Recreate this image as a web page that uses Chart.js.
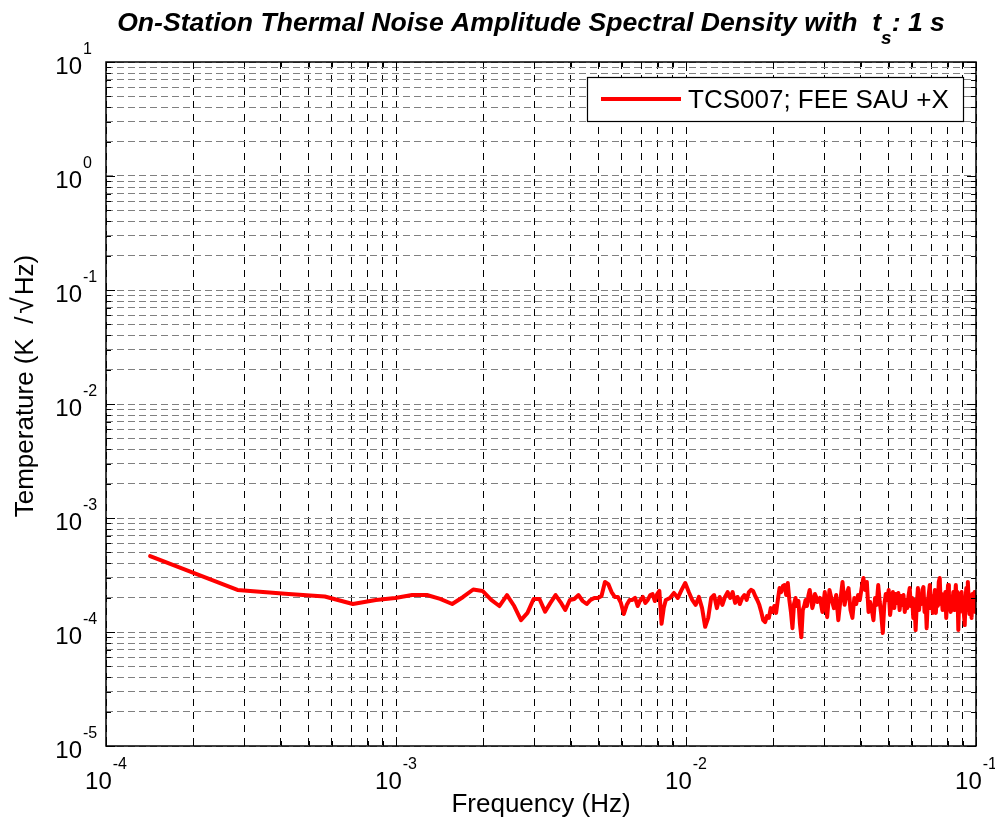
<!DOCTYPE html>
<html>
<head>
<meta charset="utf-8">
<title>On-Station Thermal Noise ASD</title>
<script src="https://cdn.jsdelivr.net/npm/chart.js@4.4.1/dist/chart.umd.min.js"></script>
<style>
    html, body { margin: 0; padding: 0; background: #fff; }
    #wrap { width: 995px; height: 825px; }
</style>
</head>
<body>
<div id="wrap"><canvas id="psdChart" width="995" height="825"></canvas></div>
<script>
// FFT bin width of the spectrum (Hz)
const BIN_HZ = 1.42e-4;

// Amplitude spectral density, in units of 1e-4 K/sqrt(Hz)
// bins 1..60, every bin
const asdLow = [
    4.64, 2.34, 2.15, 2.05, 1.76, 1.91, 1.99, 2.11, 2.11, 1.95,
    1.76, 2.03, 2.36, 2.29, 1.91, 1.69, 2.11, 1.69, 1.27, 1.47,
    1.95, 1.95, 1.51, 1.80, 2.11, 1.83, 1.56, 1.91, 1.95, 2.11,
    1.87, 1.76, 1.91, 1.99, 1.99, 2.07, 2.75, 2.63, 2.24, 2.03,
    2.03, 1.80, 1.44, 1.73, 1.91, 1.91, 1.99, 1.69, 1.91, 2.03,
    1.80, 1.91, 2.11, 2.15, 1.87, 2.15, 2.29, 1.18, 1.62, 1.91
];
// bins 62..200, every 2nd bin
const asdMid = [
    1.99, 2.20, 1.99, 2.34, 2.69, 2.24, 1.91, 1.73, 2.03, 1.62,
    1.11, 1.33, 1.99, 2.11, 1.62, 2.03, 1.73, 2.03, 2.24, 1.99,
    2.24, 1.80, 2.03, 1.76, 1.99, 2.11, 1.91, 2.24, 2.34, 2.29,
    2.07, 1.91, 1.73, 1.50, 1.27, 1.22, 1.38, 1.33, 1.62, 1.50,
    1.69, 1.47, 1.91, 2.43, 2.24, 2.53, 2.58, 2.11, 2.69, 1.91,
    1.50, 1.08, 1.76, 1.99, 1.69, 1.87, 1.18, 0.90, 1.56, 1.69,
    1.91, 1.69, 2.07, 2.34, 1.99, 1.62, 1.80, 2.15, 2.03, 1.83
];
// bins 204..704, every 4th bin
const asdHigh = [
    1.99, 1.50, 2.24, 1.35, 2.34, 1.91, 1.62, 2.11, 1.27, 1.91,
    2.75, 1.73, 2.15, 2.43, 1.56, 1.33, 1.99, 1.76, 2.11, 1.91,
    2.43, 2.98, 2.34, 2.75, 1.50, 1.83, 1.56, 1.27, 1.99, 1.73,
    2.58, 1.83, 1.41, 0.98, 1.73, 2.15, 1.91, 2.34, 1.41, 1.80,
    2.24, 1.62, 2.15, 1.80, 2.20, 1.56, 2.07, 1.73, 2.11, 1.50,
    1.91, 1.62, 2.07, 2.43, 1.69, 1.99, 1.33, 1.91, 1.04, 1.73,
    2.43, 1.56, 2.07, 1.76, 2.34, 2.48, 1.50, 1.91, 1.08, 1.80,
    2.15, 2.58, 1.62, 2.07, 1.47, 1.91, 2.34, 1.47, 2.07, 1.69,
    2.75, 2.98, 1.76, 2.15, 1.56, 1.99, 1.69, 2.24, 1.33, 1.91,
    2.58, 1.62, 2.07, 1.50, 1.91, 1.73, 2.24, 1.56, 1.99, 2.58,
    1.69, 2.24, 1.04, 1.91, 1.50, 2.07, 2.24, 1.62, 1.99, 1.41,
    1.15, 1.91, 2.43, 1.56, 2.75, 1.99, 1.44, 2.07, 1.73, 1.33,
    2.15, 1.56, 1.91, 2.24, 1.50, 1.99
];

// decade exponents used for tick labels
const xDecades = [-4, -3, -2, -1];
const yDecades = [-5, -4, -3, -2, -1, 0, 1];

const seriesLabel = 'TCS007; FEE SAU +X';

// build the points from the bin segments
function segment(values, firstBin, step) {
    return values.map((v, i) => ({ x: (firstBin + i * step) * BIN_HZ, y: v * 1e-4 }));
}
const points = [].concat(segment(asdLow, 1, 1), segment(asdMid, 62, 2), segment(asdHigh, 204, 4));

// every 1..9 x 10^e tick between the first and last decade
function logTicks(decades) {
    const out = [];
    for (let i = 0; i < decades.length - 1; i++) {
        for (let m = 1; m < 10; m++) out.push({ value: m * Math.pow(10, decades[i]), major: m === 1 });
    }
    out.push({ value: Math.pow(10, decades[decades.length - 1]), major: true });
    return out;
}

const FONT = '"Liberation Sans", Arial, Helvetica, sans-serif';

function drawPow(ctx, exp, x, y, mode) {
    // mode 'center' : whole label centred on x, 'right' : "10" ends at x
    ctx.font = '24px ' + FONT;
    const wBase = ctx.measureText('10').width;
    ctx.font = '16px ' + FONT;
    const wExp = ctx.measureText(String(exp)).width;
    let left = mode === 'center' ? x - (wBase + wExp + 1) / 2 : x - wBase;
    ctx.textAlign = 'left';
    ctx.textBaseline = 'alphabetic';
    ctx.font = '24px ' + FONT;
    ctx.fillText('10', left, y);
    ctx.font = '16px ' + FONT;
    ctx.fillText(String(exp), left + wBase + 1, y - 20);
}

// draws text pieces one after another, returns the end offset
function drawRun(ctx, pieces, start) {
    let pos = start;
    pieces.forEach(([txt, font, gap]) => {
        ctx.font = font;
        pos += gap;
        ctx.fillText(txt, pos, 0);
        pos += ctx.measureText(txt).width;
    });
    return pos;
}

const matlabAxes = {
    id: 'matlabAxes',
    afterDatasetsDraw(chart) {
        const ctx = chart.ctx;
        const a = chart.chartArea;
        const xs = chart.scales.x, ys = chart.scales.y;
        ctx.save();
        ctx.fillStyle = '#000';
        ctx.strokeStyle = '#000';

        // tick marks pointing inwards on all four sides
        ctx.lineWidth = 1;
        ctx.beginPath();
        logTicks(xDecades).forEach(t => {
            const px = Math.round(xs.getPixelForValue(t.value)) + 0.5;
            const len = t.major ? 9 : 5;
            ctx.moveTo(px, a.bottom); ctx.lineTo(px, a.bottom - len);
            ctx.moveTo(px, a.top); ctx.lineTo(px, a.top + len);
        });
        logTicks(yDecades).forEach(t => {
            const py = Math.round(ys.getPixelForValue(t.value)) + 0.5;
            const len = t.major ? 9 : 5;
            ctx.moveTo(a.left, py); ctx.lineTo(a.left + len, py);
            ctx.moveTo(a.right, py); ctx.lineTo(a.right - len, py);
        });
        ctx.stroke();

        // box
        ctx.lineWidth = 1.5;
        ctx.strokeRect(a.left, a.top, a.right - a.left, a.bottom - a.top);

        // tick labels
        xDecades.forEach(e => drawPow(ctx, e, xs.getPixelForValue(Math.pow(10, e)), a.bottom + 43, 'center'));
        yDecades.forEach(e => drawPow(ctx, e, 82, ys.getPixelForValue(Math.pow(10, e)) + 12, 'right'));

        // axis titles
        ctx.font = '26px ' + FONT;
        ctx.textAlign = 'center';
        ctx.textBaseline = 'alphabetic';
        ctx.fillText('Frequency (Hz)', (a.left + a.right) / 2, 812);

        // y title, TeX-like unit with a larger radical
        const f26 = '26px ' + FONT, f30 = '30px ' + FONT;
        const yTitle = [
            ['Temperature', f26, 0], ['(K  /', f26, 7], ['\u221A', f30, 3], ['Hz)', f26, 2]
        ];
        ctx.textAlign = 'left';
        ctx.save();
        ctx.rotate(-Math.PI / 2);
        ctx.globalAlpha = 0;
        const len = drawRun(ctx, yTitle, 0);
        ctx.restore();
        ctx.save();
        ctx.translate(33, 386 + len / 2);
        ctx.rotate(-Math.PI / 2);
        drawRun(ctx, yTitle, 0);
        ctx.restore();

        // title with subscript
        const p1 = 'On-Station Thermal Noise Amplitude Spectral Density with  t';
        const p2 = ': 1 s';
        const tFont = 'italic bold 26.6px ' + FONT;
        const sFont = 'italic bold 19px ' + FONT;
        ctx.font = tFont;
        const w1 = ctx.measureText(p1).width, w2 = ctx.measureText(p2).width;
        ctx.font = sFont;
        const ws = ctx.measureText('s').width;
        let tx = 531 - (w1 + ws + w2) / 2;
        ctx.textAlign = 'left';
        ctx.font = tFont;
        ctx.fillText(p1, tx, 31);
        ctx.font = sFont;
        ctx.fillText('s', tx + w1, 44);
        ctx.font = tFont;
        ctx.fillText(p2, tx + w1 + ws, 31);

        // legend
        ctx.fillStyle = '#fff';
        ctx.fillRect(587, 77, 376, 44);
        ctx.lineWidth = 1.2;
        ctx.strokeRect(587.5, 77.5, 376, 44);
        ctx.strokeStyle = '#ff0000';
        ctx.lineWidth = 4;
        ctx.beginPath();
        ctx.moveTo(601, 99);
        ctx.lineTo(681, 99);
        ctx.stroke();
        ctx.fillStyle = '#000';
        ctx.font = '26px ' + FONT;
        ctx.fillText(seriesLabel, 688, 108);
        ctx.restore();
    }
};

new Chart(document.getElementById('psdChart'), {
    type: 'scatter',
    data: {
        datasets: [{
            label: seriesLabel,
            data: points,
            showLine: true,
            borderColor: '#ff0000',
            backgroundColor: '#ff0000',
            borderWidth: 4,
            borderJoinStyle: 'round',
            borderCapStyle: 'round',
            pointRadius: 0,
            tension: 0,
            fill: false
        }]
    },
    options: {
        responsive: false,
        animation: false,
        events: [],
        layout: { padding: { top: 62, right: 19, bottom: 0, left: 0 } },
        plugins: {
            legend: { display: false },
            title: { display: false },
            tooltip: { enabled: false }
        },
        scales: {
            x: {
                type: 'logarithmic',
                min: 1e-4,
                max: 1e-1,
                afterBuildTicks: s => { s.ticks = logTicks(xDecades); },
                afterFit: s => { s.height = 79; },
                ticks: { display: false },
                grid: { color: '#000', lineWidth: 1, drawTicks: false },
                border: { display: false, dash: [7, 6] }
            },
            y: {
                type: 'logarithmic',
                min: 1e-5,
                max: 10,
                afterBuildTicks: s => { s.ticks = logTicks(yDecades); },
                afterFit: s => { s.width = 106; },
                ticks: { display: false },
                grid: { color: '#808080', lineWidth: 1, drawTicks: false },
                border: { display: false, dash: [7, 4] }
            }
        }
    },
    plugins: [matlabAxes]
});
</script>
</body>
</html>
